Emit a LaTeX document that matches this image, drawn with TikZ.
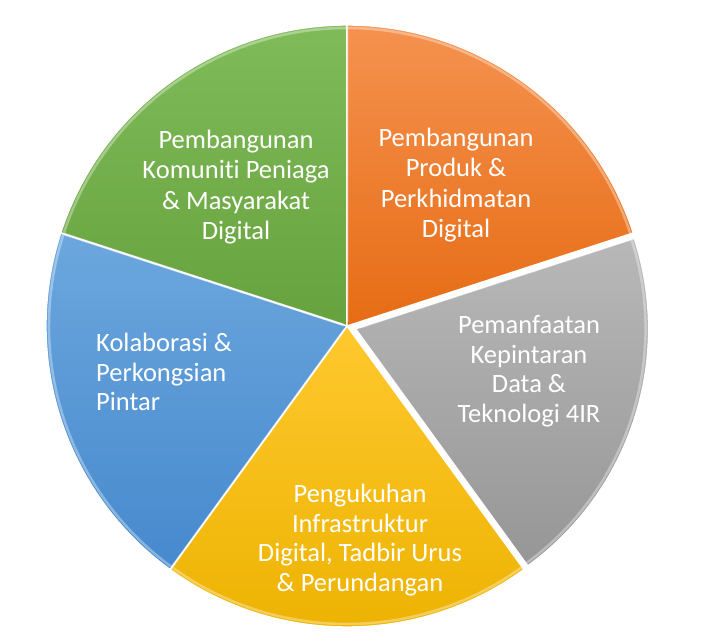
\documentclass[tikz,border=0pt]{standalone}
\usepackage{fontspec}
\setmainfont{Carlito}[Ligatures=NoCommon]
\usetikzlibrary{calc}
\definecolor{orangetop}{HTML}{F5924F}
\definecolor{orangebot}{HTML}{E66C14}
\definecolor{graytop}{HTML}{B8B8B8}
\definecolor{graybot}{HTML}{969696}
\definecolor{yellowtop}{HTML}{FFC82E}
\definecolor{yellowbot}{HTML}{ECB200}
\definecolor{bluetop}{HTML}{6CA7DE}
\definecolor{bluebot}{HTML}{4689CD}
\definecolor{greentop}{HTML}{80BB5A}
\definecolor{greenbot}{HTML}{66A23D}
\tikzset{
  slice/.style={draw=white, line width=1.4pt, line join=round},
  orangeslice/.style={slice, top color=orangetop, bottom color=orangebot},
  grayslice/.style={slice, top color=graytop, bottom color=graybot},
  yellowslice/.style={slice, top color=yellowtop, bottom color=yellowbot},
  blueslice/.style={slice, top color=bluetop, bottom color=bluebot},
  greenslice/.style={slice, top color=greentop, bottom color=greenbot},
  bevel/.style={draw=white, opacity=0.35, line width=2.5pt, line join=round},
  slicetext/.style={text=white, font=\fontsize{26.5}{30.5}\selectfont, align=center, inner sep=0pt}
}
\begin{document}
\begin{tikzpicture}[x=1pt,y=1pt]
  \useasboundingbox (0,0) rectangle (708,640);
  \coordinate (c) at (347,314);
  \coordinate (cg) at ($(c)+(-18:9)$);

  % Slices
  \path[greenslice] (c) -- ++(162:301) arc[start angle=162, end angle=90, radius=301] -- cycle;
  \path[orangeslice] (c) -- ++(90:301) arc[start angle=90, end angle=18, radius=301] -- cycle;
  \path[yellowslice] (c) -- ++(-54:301) arc[start angle=-54, end angle=-126, radius=301] -- cycle;
  \path[blueslice] (c) -- ++(-126:301) arc[start angle=-126, end angle=-198, radius=301] -- cycle;
  \path[grayslice] (cg) -- ++(18:293) arc[start angle=18, end angle=-54, radius=293] -- cycle;

  % Bevel highlights
  \draw[bevel] ($(c)+(162:4)$) -- ++(162:294) arc[start angle=162, end angle=90, radius=298];
  \draw[bevel] ($(c)+(90:4)$) -- ++(90:294) arc[start angle=90, end angle=18, radius=298];
  \draw[bevel] ($(c)+(-126:4)$) -- ++(-126:294) arc[start angle=-126, end angle=-54, radius=298];
  \draw[bevel] ($(c)+(162:4)$) -- ++(162:294) arc[start angle=162, end angle=234, radius=298];
  \draw[bevel] ($(cg)+(18:4)$) -- ++(18:286) arc[start angle=18, end angle=-54, radius=290];

  % Labels
  \node[slicetext] (produk) at (456,455) {Pembangunan\\Produk \&\\Perkhidmatan\\Digital};
  \node[slicetext] (komuniti) at (236,453) {Pembangunan\\Komuniti Peniaga\\\& Masyarakat\\Digital};
  \node[slicetext, font=\fontsize{26.5}{29.5}\selectfont] (data) at (529,269) {Pemanfaatan\\Kepintaran\\Data \&\\Teknologi 4IR};
  \node[slicetext, align=left, anchor=west, font=\fontsize{26.5}{29.5}\selectfont] (kolaborasi) at (96,268) {Kolaborasi \&\\Perkongsian\\Pintar};
  \node[slicetext, font=\fontsize{26.5}{29.5}\selectfont] (infra) at (360,100) {Pengukuhan\\Infrastruktur\\Digital, Tadbir Urus\\\& Perundangan};
\end{tikzpicture}
\end{document}
